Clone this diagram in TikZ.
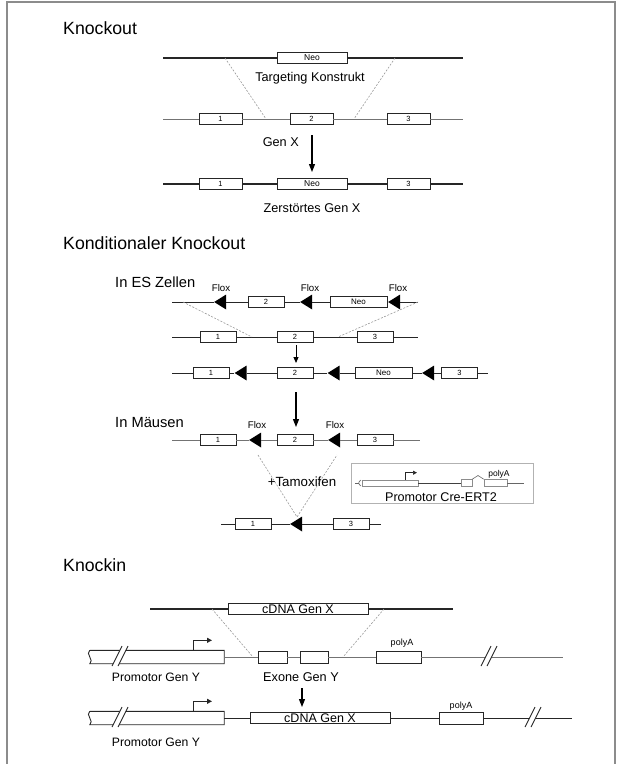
\documentclass[tikz,border=0pt]{standalone}
\usepackage{fontspec}
\setmainfont{Liberation Sans}
\usetikzlibrary{shapes.geometric, arrows.meta, calc, positioning}

\tikzset{
    exon/.style = {draw=black!85, fill=white, line width=0.9pt, inner sep=0pt, minimum height=11pt, font=\fontsize{7.5}{8}\selectfont},
    lox/.style = {isosceles triangle, isosceles triangle apex angle=64, shape border rotate=180, fill=black, inner sep=0pt, minimum height=12pt},
    dna/.style = {draw=black!85, line width=1.1pt},
    thindna/.style = {draw=black!55, line width=0.7pt},
    guide/.style = {draw=black!40, dash pattern=on 2pt off 1.5pt, line width=0.6pt},
    downarrow/.style = {draw=black, line width=1.3pt, -{Triangle[length=8pt, width=6pt]}},
    promo/.style = {draw=black!85, line width=0.9pt, -{Triangle[length=5pt, width=5pt]}},
    title/.style = {font=\fontsize{17.7}{20}\selectfont, anchor=base west, inner sep=0pt},
    sub/.style = {font=\fontsize{14.7}{17}\selectfont, anchor=base west, inner sep=0pt},
    lbl/.style = {font=\fontsize{12.7}{15}\selectfont, anchor=base, inner sep=0pt},
    floxlbl/.style = {font=\fontsize{9.7}{11}\selectfont, anchor=base, inner sep=0pt},
    polylbl/.style = {font=\fontsize{8.5}{10}\selectfont, anchor=base, inner sep=0pt},
    breakmark/.pic = {
        \fill[white] (-8,9) -- (2,-11) -- (8,-11) -- (-2,9) -- cycle;
        \draw[black!85, line width=0.9pt] (-8,9) -- (2,-11) (-2,9) -- (8,-11);
    },
}

\begin{document}
\begin{tikzpicture}[x=1pt, y=-1pt]
    \useasboundingbox (0,0) rectangle (621,764);
    \draw[black!45, line width=1.6pt] (7,764) -- (7,2) -- (615,2) -- (615,764);

    % Knockout
    \node[title] (tKO) at (63,34) {Knockout};
    \coordinate (KTl) at (163,58);
    \coordinate (KTr) at (463,58);
    \node[exon, minimum width=70pt, font=\fontsize{8.5}{9}\selectfont] (KTneo) at (312,58) {Neo};
    \draw[dna] (KTl) -- (KTneo) -- (KTr);
    \node[lbl] (lTK) at (310,81.5) {Targeting Konstrukt};

    \coordinate (KGl) at (163,119);
    \coordinate (KGr) at (463,119);
    \foreach \n/\x in {1/220.5, 2/311.5, 3/408.5}{
        \node[exon, minimum width=43pt] (KG\n) at (\x,119) {\n};
    }
    \draw[thindna] (KGl) -- (KG1) -- (KG2) -- (KG3) -- (KGr);
    \coordinate (KD1) at (225,58);
    \coordinate (KD2) at (266,119);
    \coordinate (KD3) at (395,58);
    \coordinate (KD4) at (354,119);
    \draw[guide] (KD1) -- (KD2);
    \draw[guide] (KD3) -- (KD4);

    \node[lbl, anchor=base east] (lGX) at (299,146.5) {Gen X};
    \coordinate (KA1) at (312,135);
    \coordinate (KA2) at (312,172);
    \draw[downarrow] (KA1) -- (KA2);

    \coordinate (KZl) at (163,184);
    \coordinate (KZr) at (463,184);
    \node[exon, minimum width=43pt] (KZ1) at (220.5,184) {1};
    \node[exon, minimum width=70pt, font=\fontsize{8.5}{9}\selectfont] (KZneo) at (312,184) {Neo};
    \node[exon, minimum width=43pt] (KZ3) at (408.5,184) {3};
    \draw[dna] (KZl) -- (KZ1) -- (KZneo) -- (KZ3) -- (KZr);
    \node[lbl] (lZG) at (312,212.5) {Zerstörtes Gen X};

    % Konditionaler Knockout
    \node[title] (tCKO) at (63,249.5) {Konditionaler Knockout};
    \node[sub] (tES) at (115,287) {In ES Zellen};
    \begin{scope}[every node/.append style={minimum height=10pt}]
        \coordinate (CEl) at (172,302);
        \coordinate (CEr) at (418,302);
        \node[lox] (CEF1) at (222,302) {};
        \node[exon, minimum width=36pt] (CE2) at (266,302) {2};
        \node[lox] (CEF2) at (308,302) {};
        \node[exon, minimum width=57pt, font=\fontsize{8}{9}\selectfont] (CEneo) at (358.5,302) {Neo};
        \node[lox] (CEF3) at (396,302) {};
        \draw[dna, line width=0.9pt] (CEl) -- (CEF1) -- (CE2) -- (CEF2) -- (CEneo) -- (CEF3) -- (CEr);
        \foreach \x in {221, 310, 398}{
            \node[floxlbl] at (\x,291.5) {Flox};
        }

        \coordinate (CMl) at (172,337);
        \coordinate (CMr) at (418,337);
        \foreach \n/\x in {1/218, 2/295, 3/375}{
            \node[exon, minimum width=36pt] (CM\n) at (\x,337) {\n};
        }
        \draw[dna, line width=0.9pt] (CMl) -- (CM1) -- (CM2) -- (CM3) -- (CMr);
        \coordinate (CD1) at (183,302);
        \coordinate (CD2) at (252,337);
        \coordinate (CD3) at (338,337);
        \draw[guide] (CD1) -- (CD2);
        \draw[guide] (CEr) -- (CD3);
        \coordinate (CA1) at (296,345);
        \coordinate (CA2) at (296,363);
        \draw[downarrow, line width=1pt, -{Triangle[length=6pt, width=5pt]}] (CA1) -- (CA2);

        \coordinate (CRl) at (172,373);
        \coordinate (CRr) at (488,373);
        \node[exon, minimum width=36pt] (CR1) at (211,373) {1};
        \node[lox] (CRF1) at (242.5,373) {};
        \node[exon, minimum width=36pt] (CR2) at (295,373) {2};
        \node[lox] (CRF2) at (335.5,373) {};
        \node[exon, minimum width=57pt, font=\fontsize{8}{9}\selectfont] (CRneo) at (383.5,373) {Neo};
        \node[lox] (CRF3) at (430,373) {};
        \node[exon, minimum width=36pt] (CR3) at (459.5,373) {3};
        \draw[dna, line width=0.9pt] (CRl) -- (CR1) -- (CRF1) -- (CR2) -- (CRF2) -- (CRneo) -- (CRF3) -- (CR3) -- (CRr);
        \coordinate (CA3) at (296,392);
        \coordinate (CA4) at (296,427);
        \draw[downarrow, line width=1.1pt] (CA3) -- (CA4);

        \node[sub] (tMS) at (115,427) {In Mäusen};
        \coordinate (CSl) at (172,440);
        \coordinate (CSr) at (420,440);
        \node[exon, minimum width=36pt] (CS1) at (218,440) {1};
        \node[lox] (CSF1) at (257,440) {};
        \node[exon, minimum width=36pt] (CS2) at (295,440) {2};
        \node[lox] (CSF2) at (336,440) {};
        \node[exon, minimum width=36pt] (CS3) at (375,440) {3};
        \draw[thindna, line width=0.9pt] (CSl) -- (CS1) -- (CSF1) -- (CS2) -- (CSF2) -- (CS3) -- (CSr);
        \node[floxlbl] at (257,428.5) {Flox};
        \node[floxlbl] at (335,428.5) {Flox};

        \coordinate (CV1) at (258,455);
        \coordinate (CV2) at (337,455);
        \coordinate (CV0) at (297,517);
        \draw[guide] (CV1) -- (CV0) -- (CV2);
        \node[lbl, font=\fontsize{13.3}{15}\selectfont] (lTam) at (302,486.5) {+Tamoxifen};

        \coordinate (CBl) at (221,524);
        \coordinate (CBr) at (381,524);
        \node[exon, minimum width=36pt] (CB1) at (253,524) {1};
        \node[lox] (CBF) at (298,524) {};
        \node[exon, minimum width=36pt] (CB3) at (351,524) {3};
        \draw[dna, line width=0.9pt] (CBl) -- (CB1) -- (CBF) -- (CB3) -- (CBr);
    \end{scope}

    % Cre-ERT2 Konstrukt
    \node[draw=black!30, line width=0.8pt, minimum width=182pt, minimum height=40pt, inner sep=0pt] (CreBox) at (442,483) {};
    \node[draw=black!45, line width=0.6pt, minimum width=56pt, minimum height=6pt, inner sep=0pt] (CP) at (390,483) {};
    \coordinate (CPl) at (355,483);
    \draw[black!60, line width=0.6pt] (CPl) -- ++(4,0);
    \draw[black!60, line width=0.6pt] (361,480) .. controls (358,482) and (358,484) .. (361,486);
    \draw[promo, line width=0.7pt, -{Triangle[length=4pt, width=4pt]}] ([xshift=15pt]CP.north) -- ++(0,-7) -- ++(12,0);
    \node[draw=black!45, fill=white, line width=0.6pt, minimum width=11pt, minimum height=7pt, inner sep=0pt] (CR1b) at (466.5,483) {};
    \node[draw=black!45, fill=white, line width=0.6pt, minimum width=23pt, minimum height=7pt, inner sep=0pt] (CR2b) at (495.5,483) {};
    \coordinate (CPr) at (524,483);
    \draw[black!75, line width=1pt] (CP) -- (CR1b);
    \draw[black!60, line width=0.6pt] (CR1b.north east) -- (478,475.5) -- (CR2b.north west);
    \draw[black!60, line width=0.6pt] (CR2b) -- (CPr);
    \node[polylbl] at (499,476.5) {polyA};
    \node[lbl, font=\fontsize{12.6}{15}\selectfont] (lCre) at (441,501) {Promotor Cre-ERT2};

    % Knockin
    \node[title] (tKI) at (63,571) {Knockin};
    \coordinate (ITl) at (150,609);
    \coordinate (ITr) at (453,609);
    \node[exon, minimum width=140pt, font=\fontsize{12.5}{14}\selectfont] (ITc) at (298,609) {cDNA Gen X};
    \draw[dna] (ITl) -- (ITc) -- (ITr);
    \coordinate (ID1) at (212,609);
    \coordinate (ID2) at (253,657);
    \coordinate (ID3) at (384,609);
    \coordinate (ID4) at (343,657);
    \draw[guide] (ID1) -- (ID2);
    \draw[guide] (ID3) -- (ID4);

    \node[minimum width=134pt, minimum height=13pt, inner sep=0pt] (PY1) at (157,657) {};
    \draw[draw=black!85, line width=0.9pt] (PY1.north west) -- (PY1.north east) -- (PY1.south east) -- (PY1.south west)
        .. controls +(5,-3) and +(-5,3) .. (PY1.north west);
    \node[exon, minimum width=29pt, minimum height=12pt] (IE1) at (272.5,657) {};
    \node[exon, minimum width=28pt, minimum height=12pt] (IE2) at (314,657) {};
    \node[exon, minimum width=45pt, minimum height=12pt] (IPA1) at (398.5,657) {};
    \coordinate (IMr) at (563,657);
    \draw[thindna] (PY1) -- (IE1) -- (IE2) -- (IPA1) -- (IMr);
    \pic at (120,657) {breakmark};
    \pic at (489,657) {breakmark};
    \draw[promo] ([xshift=36pt]PY1.north) -- ++(0,-10) -- ++(19,0);
    \node[polylbl, font=\fontsize{9}{10}\selectfont] at (402,645) {polyA};
    \node[lbl, font=\fontsize{12.2}{14}\selectfont] (lPY1) at (156,681.5) {Promotor Gen Y};
    \node[lbl, font=\fontsize{12.7}{14}\selectfont] (lEx) at (301,681.5) {Exone Gen Y};
    \coordinate (IA1) at (302,688);
    \coordinate (IA2) at (302,707);
    \draw[downarrow, line width=1.1pt] (IA1) -- (IA2);

    \node[minimum width=134pt, minimum height=13pt, inner sep=0pt] (PY2) at (157,718) {};
    \draw[draw=black!85, line width=0.9pt] (PY2.north west) -- (PY2.north east) -- (PY2.south east) -- (PY2.south west)
        .. controls +(5,-3) and +(-5,3) .. (PY2.north west);
    \node[exon, minimum width=140pt, font=\fontsize{12.5}{14}\selectfont] (IBc) at (320,718) {cDNA Gen X};
    \node[exon, minimum width=44pt, minimum height=12pt] (IPA2) at (461,718) {};
    \coordinate (IBr) at (572,718);
    \draw[dna, line width=0.9pt] (PY2) -- (IBc) -- (IPA2) -- (IBr);
    \pic at (120,718) {breakmark};
    \pic at (533,718) {breakmark};
    \draw[promo] ([xshift=36pt]PY2.north) -- ++(0,-10) -- ++(19,0);
    \node[polylbl, font=\fontsize{9}{10}\selectfont] at (461,708) {polyA};
    \node[lbl, font=\fontsize{12.2}{14}\selectfont] (lPY2) at (156,746) {Promotor Gen Y};
\end{tikzpicture}
\end{document}
